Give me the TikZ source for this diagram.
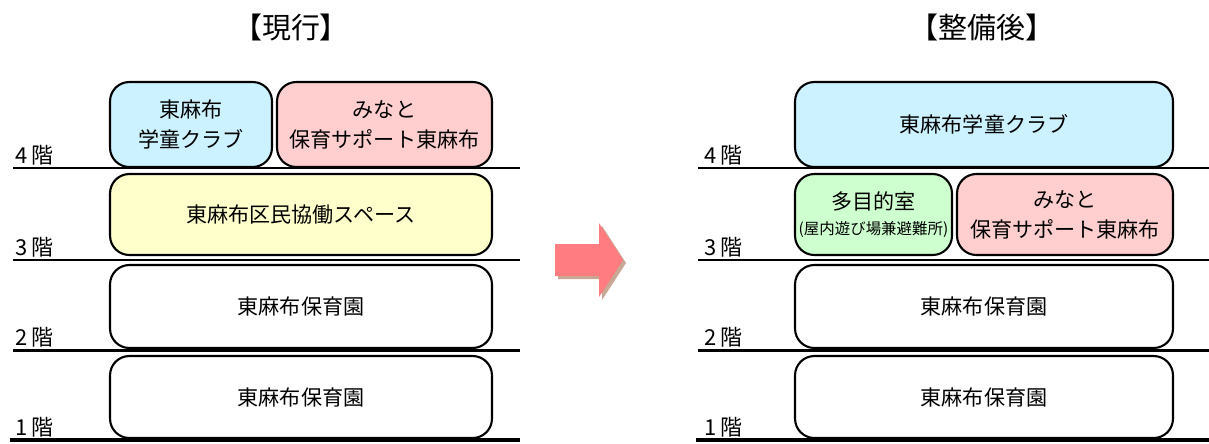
\documentclass[tikz,border=0pt]{standalone}
\usepackage{fontspec}
\setmainfont{Noto Sans CJK JP}
\usetikzlibrary{positioning}

\definecolor{clubblue}{RGB}{204,242,255}
\definecolor{supportpink}{RGB}{255,206,206}
\definecolor{spaceyellow}{RGB}{255,255,204}
\definecolor{roomgreen}{RGB}{206,255,206}
\definecolor{arrowred}{RGB}{255,124,128}
\definecolor{arrowshade}{RGB}{200,168,148}

\tikzset{
  room/.style={draw=black,line width=1.2pt,rounded corners=11pt,inner sep=0pt,
    align=center,font=\fontsize{12}{17}\selectfont},
  floorline/.style={line width=1.7pt},
  floorlabel/.style={anchor=south west,inner sep=0pt,font=\fontsize{12.5}{14}\selectfont},
  title/.style={font=\fontsize{16.5}{18}\selectfont}
}

\begin{document}
\begin{tikzpicture}[x=0.02cm,y=-0.02cm]
    \useasboundingbox (0,0) rectangle (1209,443);

    % titles
    \node[title] (now)   at (291,27) {【現行】};
    \node[title] (after) at (982,27) {【整備後】};

    % floor lines
    \foreach \y in {168,260,350} {
      \draw[floorline] (13,\y) -- (520,\y);
      \draw[floorline] (698,\y) -- (1209,\y);
    }
    \draw[line width=2.4pt] (10,440) -- (520,440);
    \draw[line width=2.4pt] (696,440) -- (1209,440);

    % floor labels
    \begin{scope}[every node/.style={floorlabel}]
      \node (nowf4) at (15,166) {4\kern2pt 階};
      \node (nowf3) at (15,258) {3\kern2pt 階};
      \node (nowf2) at (15,348) {2\kern2pt 階};
      \node (nowf1) at (15,438) {1\kern2pt 階};
      \node (aftf4) at (704,166) {4\kern2pt 階};
      \node (aftf3) at (704,258) {3\kern2pt 階};
      \node (aftf2) at (704,348) {2\kern2pt 階};
      \node (aftf1) at (704,438) {1\kern2pt 階};
    \end{scope}

    % current building
    \node[room,fill=clubblue,minimum width=3.24cm,minimum height=1.7cm]
      (nowclub) at (191,124.5) {東麻布\\学童クラブ};
    \node[room,fill=supportpink,minimum width=4.3cm,minimum height=1.7cm]
      (nowsupport) at (384.5,124.5) {みなと\\保育サポート東麻布};
    \node[room,fill=spaceyellow,minimum width=7.64cm,minimum height=1.62cm]
      (nowspace) at (301,214.5) {東麻布区民協働スペース};
    \node[room,fill=white,minimum width=7.64cm,minimum height=1.66cm]
      (nownursery2) at (301,306.5) {東麻布保育園};
    \node[room,fill=white,minimum width=7.64cm,minimum height=1.64cm]
      (nownursery1) at (301,397) {東麻布保育園};

    % arrow
    \fill[arrowshade] (558,247) -- (602,247) -- (602,226) -- (626,263)
      -- (602,300) -- (602,279) -- (558,279) -- cycle;
    \fill[arrowred] (555,244) -- (599,244) -- (599,223) -- (623,260)
      -- (599,297) -- (599,276) -- (555,276) -- cycle;

    % after renovation
    \node[room,fill=clubblue,minimum width=7.56cm,minimum height=1.7cm]
      (aftclub) at (984,124.5) {東麻布学童クラブ};
    \node[room,fill=roomgreen,minimum width=3.14cm,minimum height=1.62cm]
      (aftroom) at (873.5,214.5) {多目的室\\[-3pt]{\fontsize{8.8}{10}\selectfont (屋内遊び場兼避難所)}};
    \node[room,fill=supportpink,minimum width=4.32cm,minimum height=1.62cm]
      (aftsupport) at (1065,214.5) {みなと\\保育サポート東麻布};
    \node[room,fill=white,minimum width=7.56cm,minimum height=1.66cm]
      (aftnursery2) at (984,306.5) {東麻布保育園};
    \node[room,fill=white,minimum width=7.56cm,minimum height=1.64cm]
      (aftnursery1) at (984,397) {東麻布保育園};
  \end{tikzpicture}
\end{document}
